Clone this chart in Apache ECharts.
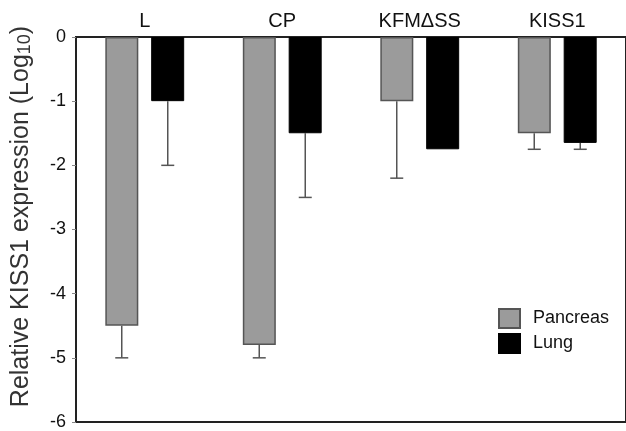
<!DOCTYPE html>
<html>
<head>
<meta charset="utf-8">
<script src="https://cdn.jsdelivr.net/npm/echarts@6/dist/echarts.min.js"></script>
<style>html,body{margin:0;padding:0;background:#fff;}#c{width:626px;height:431px;}</style>
</head>
<body>
<div id="c"></div>
<script>
var categories = ['L', 'CP', 'KFM\u0394SS', 'KISS1'];
var pancreas = [-4.5, -4.8, -1.0, -1.5];
var pancreasErrLow = [-5.0, -5.0, -2.2, -1.75];
var lung = [-1.0, -1.5, -1.75, -1.65];
var lungErrLow = [-2.0, -2.5, null, -1.75];
var yTicks = [0, -1, -2, -3, -4, -5, -6];

var FONT = 'Arial, "Liberation Sans", sans-serif';
var BAR_W = 33;
var OFFSET = 23;

function errSeries(name, lows, vals, sign) {
  var data = [];
  for (var i = 0; i < lows.length; i++) {
    if (lows[i] !== null) data.push([i, vals[i], lows[i]]);
  }
  return {
    type: 'custom',
    name: name + ' err',
    z: 1,
    silent: true,
    data: data,
    renderItem: function (params, api) {
      var x = api.coord([api.value(0), 0])[0] + sign * OFFSET;
      var y1 = api.coord([api.value(0), api.value(1)])[1];
      var y2 = api.coord([api.value(0), api.value(2)])[1];
      var cap = 6.5;
      var st = { stroke: '#555', lineWidth: 1.5 };
      return {
        type: 'group',
        children: [
          { type: 'line', shape: { x1: x, y1: y1, x2: x, y2: y2 }, style: st },
          { type: 'line', shape: { x1: x - cap, y1: y2, x2: x + cap, y2: y2 }, style: st }
        ]
      };
    }
  };
}

var chart = echarts.init(document.getElementById('c'));
chart.setOption({
  animation: false,
  textStyle: { fontFamily: FONT },
  grid: { left: 76, top: 37, width: 551, bottom: 6, show: true, borderColor: '#222', borderWidth: 2, backgroundColor: 'transparent' },
  legend: {
    orient: 'vertical',
    left: 498, top: 308, padding: 0,
    itemWidth: 21, itemHeight: 19, itemGap: 4,
    textStyle: { fontSize: 18, color: '#111', fontFamily: FONT, padding: [0, 0, 0, 8] },
    data: [{ name: 'Pancreas', icon: 'rect' }, { name: 'Lung', icon: 'rect' }]
  },
  xAxis: {
    type: 'category',
    position: 'top',
    data: categories,
    axisLine: { show: true, lineStyle: { color: '#222', width: 2 } },
    axisTick: { show: false },
    axisLabel: { fontSize: 20, color: '#111', margin: 6, fontFamily: FONT }
  },
  yAxis: {
    type: 'value',
    min: -6, max: 0, interval: 1,
    name: '{a|Relative KISS1 expression (Log}{s|10}{a|)}',
    nameLocation: 'middle',
    nameGap: 42,
    nameRotate: 90,
    nameTextStyle: {
      padding: [0, 0, 0, 26],
      rich: {
        a: { fontSize: 25, color: '#333', fontFamily: FONT },
        s: { fontSize: 18, color: '#333', fontFamily: FONT, padding: [8, 0, 0, 0] }
      }
    },
    axisLine: { show: true, lineStyle: { color: '#222', width: 2 } },
    axisTick: { show: true, length: 4, lineStyle: { color: '#888' } },
    splitLine: { show: false },
    axisLabel: {
      fontSize: 18, color: '#111', margin: 10, fontFamily: FONT,
      formatter: function (v) { return yTicks.indexOf(v) >= 0 ? String(v) : ''; }
    }
  },
  series: [
    {
      name: 'Pancreas', type: 'bar', data: pancreas,
      barWidth: BAR_W, barGap: '39%',
      itemStyle: { color: '#9b9b9b', borderColor: '#555', borderWidth: 1.5 },
      z: 2
    },
    {
      name: 'Lung', type: 'bar', data: lung,
      barWidth: BAR_W,
      itemStyle: { color: '#000', borderColor: '#000', borderWidth: 1 },
      z: 2
    },
    errSeries('Pancreas', pancreasErrLow, pancreas, -1),
    errSeries('Lung', lungErrLow, lung, 1)
  ]
});
</script>
</body>
</html>
